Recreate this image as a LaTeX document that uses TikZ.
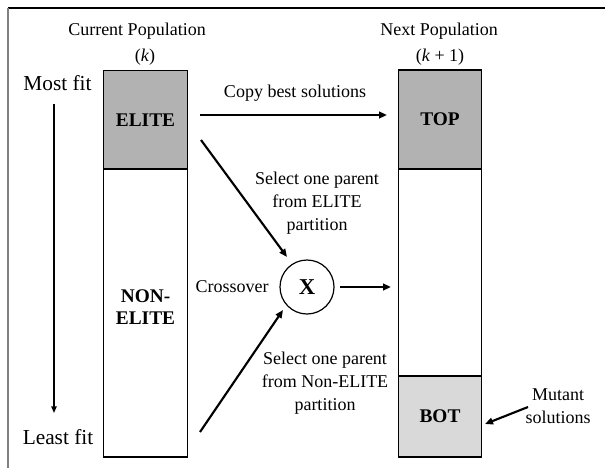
\documentclass[tikz,border=0pt]{standalone}
\usepackage{fontspec}
\setmainfont{Liberation Serif}
\usetikzlibrary{arrows.meta}
\begin{document}
\begin{tikzpicture}[x=0.75pt,y=-0.75pt,
  lbl/.style={font=\fontsize{13.5}{17}\selectfont, align=center, inner sep=0pt},
  big/.style={font=\fontsize{16}{19}\selectfont, inner sep=0pt},
  part/.style={draw=black, line width=0.9pt, minimum width=62.5pt, inner sep=0pt,
    font=\fontsize{14.5}{16}\selectfont\bfseries, align=center},
  arr/.style={line width=1.6pt, -{Triangle[length=6pt,width=5pt]}},
  thinarr/.style={line width=1pt, -{Triangle[length=5pt,width=4pt]}}]
\useasboundingbox (0,0) rectangle (605,468);
% frame
\draw[line width=0.8pt] (8,8) -- (605,8);
\draw[line width=0.8pt, gray] (8,8) -- (8,468);
% headers
\node[lbl] (curpop) at (137,31) {Current Population};
\node[lbl] (curk) at (145,57) {(\textit{k})};
\node[lbl] (nextpop) at (439,31) {Next Population};
\node[lbl] (nextk) at (440,57) {(\textit{k} + 1)};
% left column
\node[part, fill=gray!60, minimum height=73.9pt] (elite) at (145.5,119.75) {ELITE};
\node[part, fill=white, minimum height=216pt] (nonelite) at (145.5,313) {};
\node[font=\fontsize{14.5}{16}\selectfont\bfseries, align=center, inner sep=0pt] (netext) at (145.5,307) {NON-\\ELITE};
% right column
\node[part, fill=gray!60, minimum height=74.25pt] (top) at (440,119.5) {TOP};
\node[part, fill=white, minimum height=155.25pt] (mid) at (440,272.5) {};
\node[part, fill=gray!30, minimum height=60.75pt] (bot) at (440,416.5) {BOT};
% fitness
\node[big] (most) at (57.5,83) {Most fit};
\node[big] (least) at (58,437) {Least fit};
\coordinate (f1) at (54,104);
\coordinate (f2) at (54,413);
\draw[thinarr] (f1) -- (f2);
% crossover
\node[draw, circle, line width=0.9pt, minimum size=40.5pt, inner sep=0pt,
  font=\fontsize{17}{19}\selectfont\bfseries] (x) at (307,287) {X};
\node[lbl] (cross) at (232,287) {Crossover};
% copy arrow
\node[lbl] (copy) at (295,93) {Copy best solutions};
\coordinate (c1) at (200,115);
\coordinate (c2) at (387,115);
\draw[arr] (c1) -- (c2);
% elite selection
\coordinate (e1) at (201,140);
\coordinate (e2) at (287,257);
\draw[arr] (e1) -- (e2);
\node[lbl] (selE) at (317,203) {Select one parent\\from ELITE\\partition};
% non-elite selection
\coordinate (n1) at (200,432);
\coordinate (n2) at (283,310);
\draw[arr] (n1) -- (n2);
\node[lbl] (selN) at (325,383) {Select one parent\\from Non-ELITE\\partition};
% output
\coordinate (o1) at (340,287);
\coordinate (o2) at (391,287);
\draw[arr] (o1) -- (o2);
% mutant
\node[lbl] (mut) at (558,406) {Mutant\\solutions};
\coordinate (m1) at (528,407);
\coordinate (m2) at (485,424);
\draw[arr] (m1) -- (m2);
\end{tikzpicture}
\end{document}
